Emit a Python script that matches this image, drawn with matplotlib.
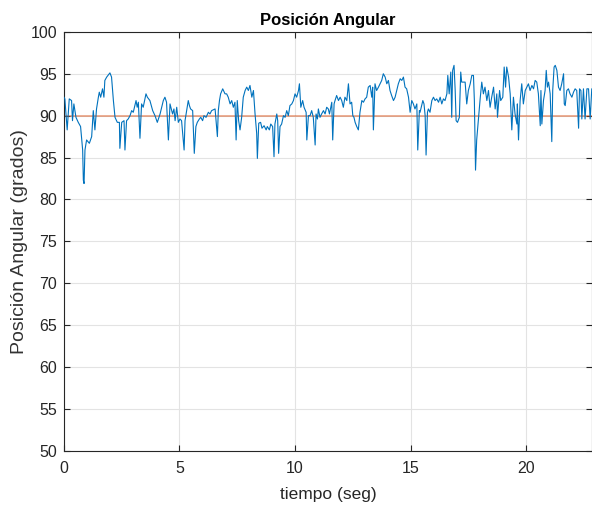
import matplotlib
matplotlib.use("Agg")
import matplotlib.pyplot as plt

plt.rcParams['font.family'] = ['Liberation Sans', 'DejaVu Sans']

tiempo = [
    0.00, 0.04, 0.14, 0.23, 0.33, 0.37, 0.43, 0.52, 0.62, 0.72, 0.81, 0.84, 0.87, 0.91, 0.98, 1.10, 1.20, 1.27, 1.34, 1.41,
    1.49, 1.53, 1.59, 1.67, 1.73, 1.77, 1.85, 1.99, 2.06, 2.14, 2.21, 2.31, 2.40, 2.42, 2.50, 2.60, 2.64, 2.71, 2.78, 2.86,
    2.93, 3.00, 3.12, 3.17, 3.22, 3.29, 3.36, 3.43, 3.55, 3.61, 3.72, 3.84, 3.94, 4.04, 4.16, 4.30, 4.37, 4.44, 4.52, 4.59,
    4.70, 4.76, 4.81, 4.88, 4.95,
    5.02, 5.09, 5.20, 5.24, 5.31, 5.38, 5.43, 5.48, 5.57, 5.64, 5.71, 5.77, 5.86, 5.92, 6.00, 6.06, 6.15, 6.25, 6.32, 6.39,
    6.54, 6.64, 6.68, 6.73, 6.78, 6.87, 6.97, 7.04, 7.11, 7.19, 7.26, 7.33, 7.40, 7.45, 7.50, 7.56, 7.62, 7.69, 7.76, 7.84,
    7.91, 7.98, 8.05, 8.13, 8.20, 8.27, 8.34, 8.37, 8.43, 8.51, 8.57, 8.66, 8.75, 8.80, 8.89, 8.95, 9.03, 9.09, 9.13, 9.21,
    9.25, 9.29, 9.35, 9.42, 9.50, 9.57, 9.64, 9.71, 9.78, 9.86, 9.93, 10.00, 10.07, 10.15, 10.19, 10.25, 10.33, 10.39, 10.48,
    10.51, 10.58, 10.65,
    10.72, 10.79, 10.87, 10.91, 10.97, 11.01, 11.08, 11.15, 11.23, 11.30, 11.37, 11.44, 11.49, 11.59, 11.63, 11.69, 11.73,
    11.80, 11.88, 11.95, 12.02, 12.09, 12.16, 12.24, 12.31, 12.38, 12.45, 12.50, 12.55, 12.60, 12.67, 12.74, 12.81, 12.89,
    12.96, 13.03, 13.10, 13.17, 13.25, 13.32, 13.36, 13.39, 13.46, 13.53, 13.61, 13.68, 13.75, 13.82, 13.90, 13.97, 14.04,
    14.11, 14.18, 14.26, 14.33, 14.40, 14.47, 14.55, 14.62, 14.69, 14.76, 14.83, 14.91, 14.98, 15.05, 15.12, 15.19, 15.27,
    15.31, 15.38,
    15.41, 15.48, 15.53, 15.58, 15.63, 15.67, 15.73, 15.77, 15.84, 15.92, 15.99, 16.06, 16.13, 16.21, 16.28, 16.35, 16.42,
    16.49, 16.57, 16.61, 16.67, 16.74, 16.78, 16.82, 16.88, 16.93, 16.97, 17.03, 17.11, 17.17, 17.21, 17.29, 17.36, 17.43,
    17.50, 17.58, 17.65, 17.72, 17.76, 17.81, 17.86, 17.94, 18.01, 18.08, 18.15, 18.22, 18.30, 18.37, 18.44, 18.51, 18.59,
    18.66, 18.73, 18.76, 18.85, 18.90, 18.99, 19.05, 19.11, 19.16, 19.24, 19.31, 19.38, 19.45, 19.52, 19.60, 19.62, 19.67,
    19.74, 19.81, 19.88, 19.96, 20.03, 20.10, 20.17, 20.25, 20.32, 20.39, 20.46, 20.53, 20.61, 20.64, 20.68, 20.75, 20.82,
    20.87, 20.92, 20.97, 21.04, 21.11, 21.15, 21.21, 21.26, 21.33, 21.40, 21.47, 21.54, 21.62, 21.65, 21.69, 21.76, 21.83,
    21.90, 21.98, 22.05, 22.12, 22.19, 22.27, 22.31, 22.37, 22.41, 22.48, 22.55, 22.63, 22.70, 22.77, 22.84, 22.91,
]

angulo = [
    92.2, 92.0, 88.3, 92.0, 91.8, 89.4, 91.4, 89.8, 89.2, 88.7, 85.9, 82.3, 81.9, 85.9, 87.1, 86.7, 87.5, 90.6, 88.3, 90.8,
    92.2, 92.8, 92.2, 93.2, 92.2, 94.2, 94.6, 95.1, 94.6, 91.8, 89.8, 89.2, 89.2, 86.1, 89.2, 89.4, 85.9, 89.4, 89.6, 90.0,
    90.6, 90.4, 91.8, 91.0, 91.6, 87.3, 91.4, 91.0, 92.6, 92.2, 91.8, 90.6, 90.0, 89.2, 90.2, 91.8, 92.2, 91.6, 87.1, 91.4,
    90.2, 90.8, 89.4, 91.0, 89.2,
    89.6, 89.4, 85.9, 89.4, 90.6, 91.8, 91.2, 90.8, 90.6, 85.5, 88.7, 89.2, 89.6, 89.8, 89.4, 90.0, 89.8, 90.4, 90.2, 90.6,
    90.8, 87.5, 90.6, 91.8, 92.6, 93.2, 92.6, 92.6, 92.2, 91.4, 91.8, 91.0, 91.6, 87.1, 91.8, 89.4, 88.3, 89.8, 92.2, 93.0,
    93.4, 93.0, 93.6, 92.2, 93.0, 90.2, 87.9, 84.9, 89.1, 89.2, 88.5, 88.8, 88.3, 88.7, 88.3, 89.0, 88.7, 85.1, 89.0, 90.2,
    89.4, 85.5, 88.7, 89.0, 90.0, 89.8, 90.6, 90.0, 91.2, 91.4, 91.8, 92.6, 92.2, 93.0, 93.8, 91.0, 91.8, 91.0, 90.4,
    87.1, 90.0, 90.0,
    90.6, 89.8, 86.5, 90.2, 89.6, 90.8, 89.8, 90.2, 90.6, 90.2, 91.0, 90.8, 90.2, 91.6, 87.1, 91.4, 91.8,
    92.4, 91.8, 92.2, 91.8, 91.0, 92.2, 91.8, 93.8, 91.4, 91.6, 90.0, 89.8, 89.2, 88.7, 88.3, 90.4, 91.8,
    91.6, 92.0, 92.2, 93.4, 93.6, 92.2, 93.4, 88.3, 93.8, 93.0, 93.4, 93.8, 94.2, 95.0, 94.6, 93.8, 94.2,
    93.0, 92.4, 91.8, 92.2, 93.0, 93.8, 94.4, 94.2, 94.6, 93.4, 93.2, 92.2, 90.4, 91.8, 91.4, 90.8, 91.4,
    85.9, 90.6,
    90.4, 91.2, 91.8, 91.4, 90.0, 85.3, 90.4, 90.8, 90.4, 91.8, 92.2, 91.8, 92.0, 91.6, 92.2, 91.4, 92.0,
    91.8, 92.6, 94.8, 92.6, 95.2, 89.8, 95.4, 96.0, 93.0, 89.4, 89.2, 89.8, 95.2, 94.0, 94.0, 94.0, 91.4,
    93.0, 93.8, 94.8, 94.8, 91.8, 83.5, 87.1, 89.8, 92.0, 94.0, 92.6, 93.4, 91.8, 93.0, 91.0, 92.2, 93.4,
    90.8, 92.6, 89.8, 93.0, 91.8, 92.2, 95.8, 93.4, 95.8, 94.6, 92.6, 88.3, 92.2, 90.2, 89.0, 91.4, 87.1,
    91.8, 93.8, 91.4, 93.0, 93.4, 93.8, 93.0, 93.6, 93.2, 94.2, 94.0, 92.6, 88.8, 93.0, 89.0, 91.8, 93.0,
    95.4, 93.4, 94.0, 92.6, 86.9, 93.0, 95.8, 96.0, 95.4, 93.4, 93.0, 93.8, 95.0, 91.4, 91.2, 93.0, 93.2,
    92.6, 92.2, 92.8, 93.2, 93.0, 88.5, 93.2, 93.0, 89.6, 93.2, 89.6, 93.2, 93.2, 89.6, 93.2, 93.2,
]

referencia = 90.0
x_limits = [0, 22.85]
y_limits = [50, 100]
x_ticks = [0, 5, 10, 15, 20]
y_ticks = [50, 55, 60, 65, 70, 75, 80, 85, 90, 95, 100]

fig = plt.figure(figsize=(5.92, 5.05), dpi=100)
ax = fig.add_axes([0.108, 0.107, 0.892, 0.830])

ax.plot(x_limits, [referencia, referencia], color='#D95319', alpha=0.5, linewidth=1.3, zorder=2)
ax.plot(tiempo, angulo, color='#0072BD', linewidth=0.8, zorder=3)

ax.set_xlim(x_limits)
ax.set_ylim(y_limits)
ax.set_xticks(x_ticks)
ax.set_yticks(y_ticks)
ax.grid(True, color='#E3E3E3', linewidth=0.8)
ax.set_axisbelow(True)

for s in ax.spines.values():
    s.set_color('#262626')
    s.set_linewidth(0.8)
ax.tick_params(direction='in', top=True, right=True, length=4, width=0.8,
               colors='#262626', labelsize=11.5, labelcolor='#262626')
ax.tick_params(axis='x', pad=7)
ax.tick_params(axis='y', pad=5)

ax.set_title('Posición Angular', fontsize=12, fontweight='bold', color='black', pad=5)
ax.set_xlabel('tiempo (seg)', fontsize=12.5, color='#262626', labelpad=8)
ax.set_ylabel('Posición Angular (grados)', fontsize=14, color='#333333', labelpad=2)

fig.savefig('out.png', dpi=100, facecolor='white')
